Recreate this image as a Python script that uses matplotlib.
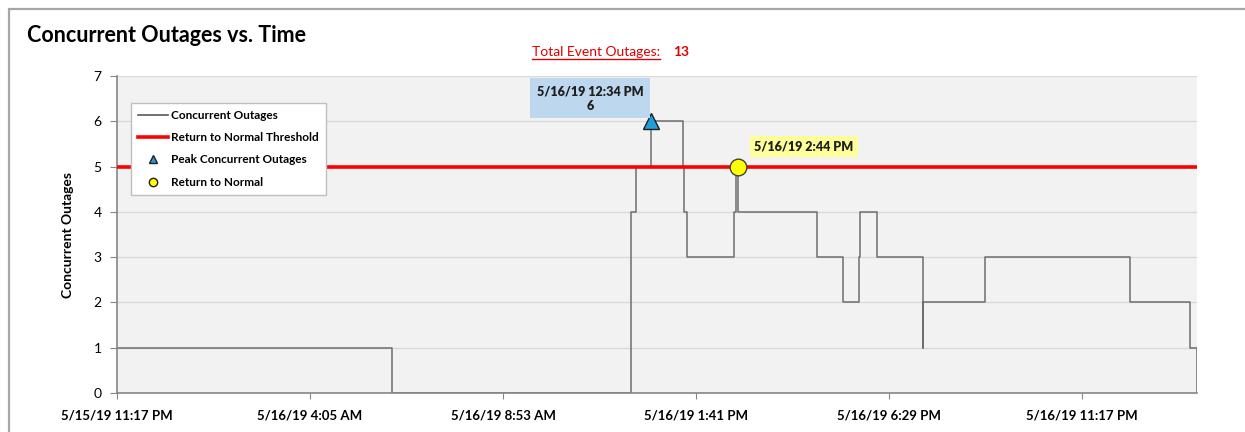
import datetime as dt
import matplotlib
matplotlib.use("Agg")
import matplotlib.pyplot as plt
from matplotlib.lines import Line2D
from matplotlib.patches import Rectangle

plt.rcParams['font.family'] = ['Lato', 'DejaVu Sans']

# outage count changes (steps-post)
times = ["2019-05-15 23:17", "2019-05-16 06:08", "2019-05-16 12:04", "2019-05-16 12:11",
         "2019-05-16 12:34", "2019-05-16 13:21", "2019-05-16 13:23", "2019-05-16 13:28",
         "2019-05-16 14:38", "2019-05-16 14:40", "2019-05-16 14:44", "2019-05-16 16:42",
         "2019-05-16 17:21", "2019-05-16 17:44", "2019-05-16 17:45", "2019-05-16 18:11",
         "2019-05-16 19:19", "2019-05-16 19:20", "2019-05-16 20:52", "2019-05-17 00:29",
         "2019-05-17 01:58", "2019-05-17 02:09"]
outages = [1, 0, 4, 5, 6, 5, 4, 3, 4, 5, 4, 3, 2, 3, 4, 3, 1, 2, 3, 2, 1, 0]

threshold = 5
peak_time, peak_value = "2019-05-16 12:34", 6
normal_time, normal_value = "2019-05-16 14:44", 5
total_outages = 13

tick_start = "2019-05-15 23:17"
tick_step_min = 288
n_ticks = 6

fmt = "%Y-%m-%d %H:%M"
t = [dt.datetime.strptime(s, fmt) for s in times]
pk_t = dt.datetime.strptime(peak_time, fmt)
rn_t = dt.datetime.strptime(normal_time, fmt)
t0 = dt.datetime.strptime(tick_start, fmt)


def excel_label(d):
    h = d.hour % 12 or 12
    ampm = "AM" if d.hour < 12 else "PM"
    return f"{d.month}/{d.day}/{d.year % 100} {h}:{d.minute:02d} {ampm}"


W, H = 1245, 432
fig = plt.figure(figsize=(W / 100, H / 100), dpi=100)
fig.patch.set_facecolor("white")
ax = fig.add_axes([117 / W, (H - 393) / H, (1197.3 - 117) / W, (393 - 76) / H])
ax.set_facecolor("#f2f2f2")

# outer chart frame
fig.add_artist(Rectangle((9 / W, -0.1), 1.1, (H - 9) / H + 0.1, transform=fig.transFigure,
                         fill=False, edgecolor="#a6a6a6", linewidth=1.6))

ax.step(t, outages, where="post", color="#6e6e6e", linewidth=1.1, zorder=2.4)
ax.axhline(threshold, color="#ff0000", linewidth=2.6, zorder=4)
ax.plot([pk_t], [peak_value], marker="^", markersize=11, color="#1ea0dc",
        markeredgecolor="#1f1f1f", markeredgewidth=1.0, linestyle="none", zorder=5)
ax.plot([rn_t], [normal_value], marker="o", markersize=12, color="#ffff00",
        markeredgecolor="#404040", markeredgewidth=1.0, linestyle="none", zorder=5)

ax.annotate(f"{excel_label(pk_t)}\n{peak_value}", xy=(pk_t, peak_value),
            xytext=(-44, 16.5), textcoords="offset points", ha="center", va="center",
            fontsize=9, fontweight="heavy", color="#1f1f1f", linespacing=1.25,
            bbox=dict(boxstyle="square,pad=0.55", facecolor="#bdd7ee", edgecolor="none"),
            zorder=6)
ax.annotate(excel_label(rn_t), xy=(rn_t, normal_value),
            xytext=(47, 14.5), textcoords="offset points", ha="center", va="center",
            fontsize=9, fontweight="heavy", color="#1f1f1f",
            bbox=dict(boxstyle="square,pad=0.35", facecolor="#ffff99", edgecolor="none"),
            zorder=6)

ax.set_ylim(0, 7)
ax.set_xlim(t[0], t[-1])
ax.set_yticks(range(0, 8))
ax.grid(axis="y", color="#d9d9d9", linewidth=1.0)
ax.set_axisbelow(True)

xt = [t0 + dt.timedelta(minutes=tick_step_min * k) for k in range(n_ticks)]
ax.set_xticks(xt)
ax.set_xticklabels([excel_label(d) for d in xt], fontweight="bold", fontsize=9.5)
ax.tick_params(axis="x", length=4, color="#868686", pad=8)
ax.tick_params(axis="y", length=5, color="#868686", labelsize=10, pad=6)

for s in ("top", "right"):
    ax.spines[s].set_visible(False)
for s in ("left", "bottom"):
    ax.spines[s].set_color("#868686")
    ax.spines[s].set_linewidth(1.2)
    ax.spines[s].set_zorder(2.6)

ax.set_ylabel("Concurrent Outages", fontsize=10, fontweight="bold", labelpad=14)

handles = [
    Line2D([], [], color="#595959", linewidth=1.2),
    Line2D([], [], color="#ff0000", linewidth=2.6),
    Line2D([], [], marker="^", color="#1ea0dc", markeredgecolor="#1f1f1f",
           markersize=6, linestyle="none"),
    Line2D([], [], marker="o", color="#ffff00", markeredgecolor="#1f1f1f",
           markersize=6, linestyle="none"),
]
labels = ["Concurrent Outages", "Return to Normal Threshold",
          "Peak Concurrent Outages", "Return to Normal"]
leg = ax.legend(handles, labels, loc="upper left", bbox_to_anchor=(0.013, 0.915),
                frameon=True, fancybox=False, edgecolor="#bfbfbf", facecolor="white",
                framealpha=1.0, prop=dict(size=8.5, weight="bold"), handlelength=2.5,
                handletextpad=0.3, labelspacing=0.95, borderpad=0.6, borderaxespad=0)
leg.set_zorder(7)

fig.text(27 / W, 1 - 36 / H, "Concurrent Outages vs. Time", fontsize=15.5,
         fontweight="bold", va="center", ha="left", color="black")

tot = fig.text(532 / W, 1 - 52 / H, "Total Event Outages:", fontsize=10,
               color="#e00000", va="center", ha="left")
fig.text(673 / W, 1 - 52 / H, str(total_outages), fontsize=10, fontweight="bold",
         color="#e00000", va="center", ha="left")

renderer = fig.canvas.get_renderer()
bb = tot.get_window_extent(renderer)
uy = (bb.y0 - 1) / H
fig.add_artist(Line2D([bb.x0 / W, bb.x1 / W], [uy, uy], transform=fig.transFigure,
                      color="#e00000", linewidth=1.0))

fig.savefig("out.png", dpi=100)
